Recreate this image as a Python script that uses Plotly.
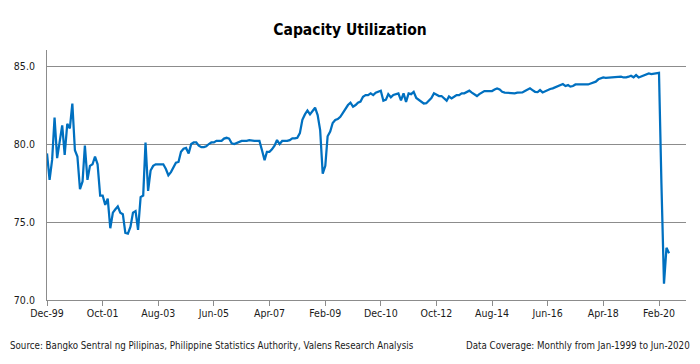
import pandas as pd
import plotly.graph_objects as go

start_month = "1999-12-01"
capacity_utilization = [
    79.4, 77.7, 79.0, 81.7, 79.1, 80.2, 81.2, 79.3, 81.3, 81.0,
    82.6, 79.6, 79.2, 77.1, 77.6, 79.9, 77.7, 78.6, 78.7, 79.2,
    78.7, 76.7, 76.7, 76.1, 76.5, 74.6, 75.6, 75.8, 76.0, 75.6,
    75.5, 74.3, 74.25, 74.7, 75.6, 75.7, 74.5, 76.6, 76.7, 80.1,
    77.0, 78.3, 78.6, 78.7, 78.7, 78.7, 78.7, 78.4, 78.0, 78.2,
    78.5, 78.8, 78.85, 79.5, 79.7, 79.75, 79.4, 80.0, 80.1, 80.1,
    79.9, 79.8, 79.8, 79.85, 80.0, 80.1, 80.1, 80.2, 80.2, 80.2,
    80.35, 80.4, 80.35, 80.05, 80.0, 80.05, 80.15, 80.2, 80.2, 80.2,
    80.25, 80.2, 80.2, 80.2, 80.2, 79.6, 78.97, 79.5, 79.5, 79.66,
    79.9, 80.26, 80.0, 80.2, 80.2, 80.2, 80.25, 80.36, 80.36, 80.4,
    80.7, 81.55, 81.9, 82.15, 81.9, 82.15, 82.33, 81.86, 80.9, 78.1,
    78.6, 80.5, 80.8, 81.35, 81.54, 81.6, 81.75, 82.0, 82.25, 82.5,
    82.65, 82.4, 82.5, 82.65, 82.72, 83.03, 83.14, 83.14, 83.25, 83.14,
    83.29, 83.35, 83.42, 82.78, 82.85, 83.2, 83.0, 83.15, 83.2, 83.25,
    82.8, 83.25, 82.7, 83.25, 83.2, 83.35, 82.95, 82.82, 82.68, 82.6,
    82.62, 82.78, 82.95, 83.25, 83.18, 83.08, 83.08, 82.9, 82.78, 83.05,
    82.93, 83.03, 83.14, 83.14, 83.25, 83.25, 83.35, 83.42, 83.3, 83.2,
    83.08, 83.2, 83.3, 83.4, 83.4, 83.4, 83.4, 83.5, 83.57, 83.5,
    83.35, 83.3, 83.29, 83.27, 83.25, 83.25, 83.29, 83.29, 83.31, 83.4,
    83.46, 83.57, 83.46, 83.35, 83.33, 83.46, 83.31, 83.4, 83.46, 83.53,
    83.57, 83.63, 83.72, 83.78, 83.85, 83.72, 83.78, 83.68, 83.72, 83.82,
    83.82, 83.82, 83.82, 83.82, 83.82, 83.88, 83.95, 84.0, 84.15, 84.23,
    84.27, 84.25, 84.27, 84.27, 84.27, 84.3, 84.32, 84.32, 84.27, 84.27,
    84.32, 84.38, 84.28, 84.42, 84.27, 84.33, 84.42, 84.49, 84.53, 84.49,
    84.53, 84.57, 84.57, 77.5, 71.05, 73.35, 73.0,
]
months = pd.date_range(start_month, periods=len(capacity_utilization), freq="MS")

title_text = "Capacity Utilization"
source_text = "Source: Bangko Sentral ng Pilipinas, Philippine Statistics Authority, Valens Research Analysis"
coverage_text = "Data Coverage: Monthly from Jan-1999 to Jun-2020"

FONT = "DejaVu Sans Condensed, sans-serif"
GRID = "#8c8c8c"
TXT = "#1a1a1a"

fig = go.Figure()
fig.add_trace(go.Scatter(
    x=months, y=capacity_utilization, mode="lines",
    line=dict(color="#0070C0", width=2.25),
    hoverinfo="x+y", showlegend=False,
))

fig.update_layout(
    width=700, height=364,
    margin=dict(l=47, r=14, t=50, b=64, autoexpand=False),
    paper_bgcolor="white", plot_bgcolor="white",
    font=dict(family=FONT, size=10.5, color=TXT),
    title=dict(text="<b>" + title_text + "</b>", x=0.5, xanchor="center",
               y=1 - 30 / 364, yanchor="middle",
               font=dict(family=FONT, size=15.5, color="black")),
    xaxis=dict(
        type="date", range=["1999-12-01", "2020-12-22"],
        tick0="1999-12-01", dtick="M22", tickformat="%b-%y",
        ticks="outside", ticklen=5, tickcolor=GRID, tickwidth=1,
        showline=True, linecolor=GRID, linewidth=1,
        showgrid=False, zeroline=False, automargin=False,
        ticklabelstandoff=-2,
        tickfont=dict(size=10.5, color=TXT),
    ),
    yaxis=dict(
        range=[70, 86.03], tickvals=[70, 75, 80, 85], tickformat=".1f",
        showgrid=True, gridcolor=GRID, gridwidth=1,
        showline=True, linecolor=GRID, linewidth=1,
        zeroline=False, ticks="", ticklabelstandoff=9, automargin=False,
        tickfont=dict(size=10.5, color=TXT),
    ),
    annotations=[
        dict(text=source_text, xref="paper", yref="paper", x=(8 - 47) / 639,
             y=-(345 - 300) / 250, xanchor="left", yanchor="middle",
             showarrow=False, font=dict(size=9.7, color=TXT)),
        dict(text=coverage_text, xref="paper", yref="paper", x=(692 - 47) / 639,
             y=-(345 - 300) / 250, xanchor="right", yanchor="middle",
             showarrow=False, font=dict(size=9.7, color=TXT)),
    ],
)

fig.write_html("out.html", config={"displayModeBar": False},
               post_script="document.body.style.margin='0';")
